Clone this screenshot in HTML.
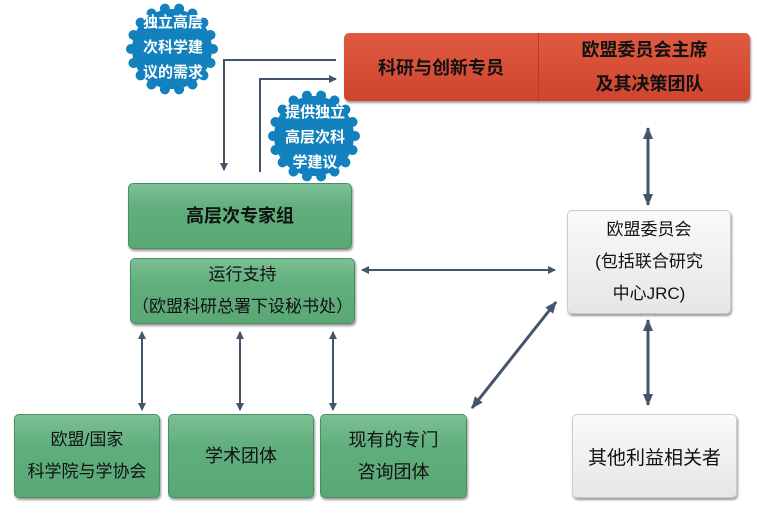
<!DOCTYPE html>
<html><head><meta charset="utf-8"><style>
body{margin:0;width:757px;height:515px;background:#fff;position:relative;overflow:hidden;font-family:"Liberation Sans","Noto Sans CJK SC",sans-serif}
.b{position:absolute;box-sizing:border-box;display:flex;flex-direction:column;justify-content:center;align-items:center;text-align:center;border-radius:5px}
.g{background:linear-gradient(#7cc095,#5fae7c 40%,#5aa876);border:1px solid #4a8f62;box-shadow:1px 2px 2px #999;color:#111;font-size:17px;line-height:30px}
.w{background:linear-gradient(#fafafa,#e6e6e6);border:1px solid #ccc;box-shadow:1px 2px 2px #999;color:#111;font-size:17px}
.r{background:linear-gradient(#e05a40,#cf4530);box-shadow:1px 2px 2px #999;font-weight:bold;color:#111;font-size:18px}
svg{position:absolute;left:0;top:0}
.t{position:absolute;color:#fff;font-weight:bold;font-size:15px;line-height:25px;text-align:center}
</style></head><body>
<div class="b r" style="left:344px;top:33px;width:406px;height:68px;flex-direction:row;align-items:stretch">
<div style="width:194px;display:flex;align-items:center;justify-content:center;border-right:1px solid #b33a26">科研与创新专员</div>
<div style="flex:1;display:flex;flex-direction:column;justify-content:center;align-items:center;line-height:34px">欧盟委员会主席<br><span style="padding-left:10px">及其决策团队</span></div>
</div>
<div class="b g" style="left:128px;top:183px;width:224px;height:66px;font-weight:bold;font-size:18px">高层次专家组</div>
<div class="b g" style="left:130px;top:258px;width:225px;height:66px;line-height:32px">运行支持<br>（欧盟科研总署下设秘书处）</div>
<div class="b w" style="left:567px;top:210px;width:164px;height:104px;line-height:32px">欧盟委员会<br>(包括联合研究<br>中心JRC)</div>
<div class="b g" style="left:14px;top:414px;width:146px;height:84px;line-height:32px">欧盟/国家<br>科学院与学协会</div>
<div class="b g" style="left:168px;top:414px;width:146px;height:84px;font-size:18px">学术团体</div>
<div class="b g" style="left:320px;top:414px;width:147px;height:84px;line-height:32px;font-size:18px">现有的专门<br>咨询团体</div>
<div class="b w" style="left:572px;top:414px;width:165px;height:84px;font-size:19px">其他利益相关者</div>
<svg width="757" height="515">
<defs>
<marker id="a" markerWidth="8" markerHeight="8" refX="7" refY="4" orient="auto-start-reverse" markerUnits="userSpaceOnUse"><path d="M0,0L8,4L0,8z" fill="#44546a"/></marker>
<marker id="A" markerWidth="12" markerHeight="12" refX="11" refY="6" orient="auto-start-reverse" markerUnits="userSpaceOnUse"><path d="M0,1L12,6L0,11z" fill="#44546a"/></marker>
<g id="st"><circle r="40" fill="#1281bd"/>
<g fill="#1281bd"><circle cx="41" r="5"/><circle cx="41" r="5" transform="rotate(20)"/><circle cx="41" r="5" transform="rotate(40)"/><circle cx="41" r="5" transform="rotate(60)"/><circle cx="41" r="5" transform="rotate(80)"/><circle cx="41" r="5" transform="rotate(100)"/><circle cx="41" r="5" transform="rotate(120)"/><circle cx="41" r="5" transform="rotate(140)"/><circle cx="41" r="5" transform="rotate(160)"/><circle cx="41" r="5" transform="rotate(180)"/><circle cx="41" r="5" transform="rotate(200)"/><circle cx="41" r="5" transform="rotate(220)"/><circle cx="41" r="5" transform="rotate(240)"/><circle cx="41" r="5" transform="rotate(260)"/><circle cx="41" r="5" transform="rotate(280)"/><circle cx="41" r="5" transform="rotate(300)"/><circle cx="41" r="5" transform="rotate(320)"/><circle cx="41" r="5" transform="rotate(340)"/></g></g>
</defs>
<g stroke="#44546a" stroke-width="2" fill="none">
<polyline points="336,60 224,60 224,170" marker-end="url(#a)"/>
<polyline points="260,172 260,79 336,79" marker-end="url(#a)"/>
<line x1="362" y1="270" x2="555" y2="270" marker-start="url(#a)" marker-end="url(#a)"/>
<line x1="142" y1="332" x2="142" y2="410" marker-start="url(#a)" marker-end="url(#a)"/>
<line x1="240" y1="332" x2="240" y2="410" marker-start="url(#a)" marker-end="url(#a)"/>
<line x1="333" y1="332" x2="333" y2="410" marker-start="url(#a)" marker-end="url(#a)"/>
</g>
<g stroke="#44546a" stroke-width="3" fill="none">
<line x1="648" y1="128" x2="648" y2="205" marker-start="url(#A)" marker-end="url(#A)"/>
<line x1="648" y1="320" x2="648" y2="405" marker-start="url(#A)" marker-end="url(#A)"/>
<line x1="472" y1="408" x2="556" y2="302" marker-start="url(#A)" marker-end="url(#A)"/>
</g>
<use href="#st" x="172" y="49"/>
<use href="#st" x="314" y="136"/>
</svg>
<div class="t" style="left:132px;top:10px;width:82px">独立高层<br>次科学建<br>议的需求</div>
<div class="t" style="left:274px;top:100px;width:82px">提供独立<br>高层次科<br>学建议</div>
</body></html>
